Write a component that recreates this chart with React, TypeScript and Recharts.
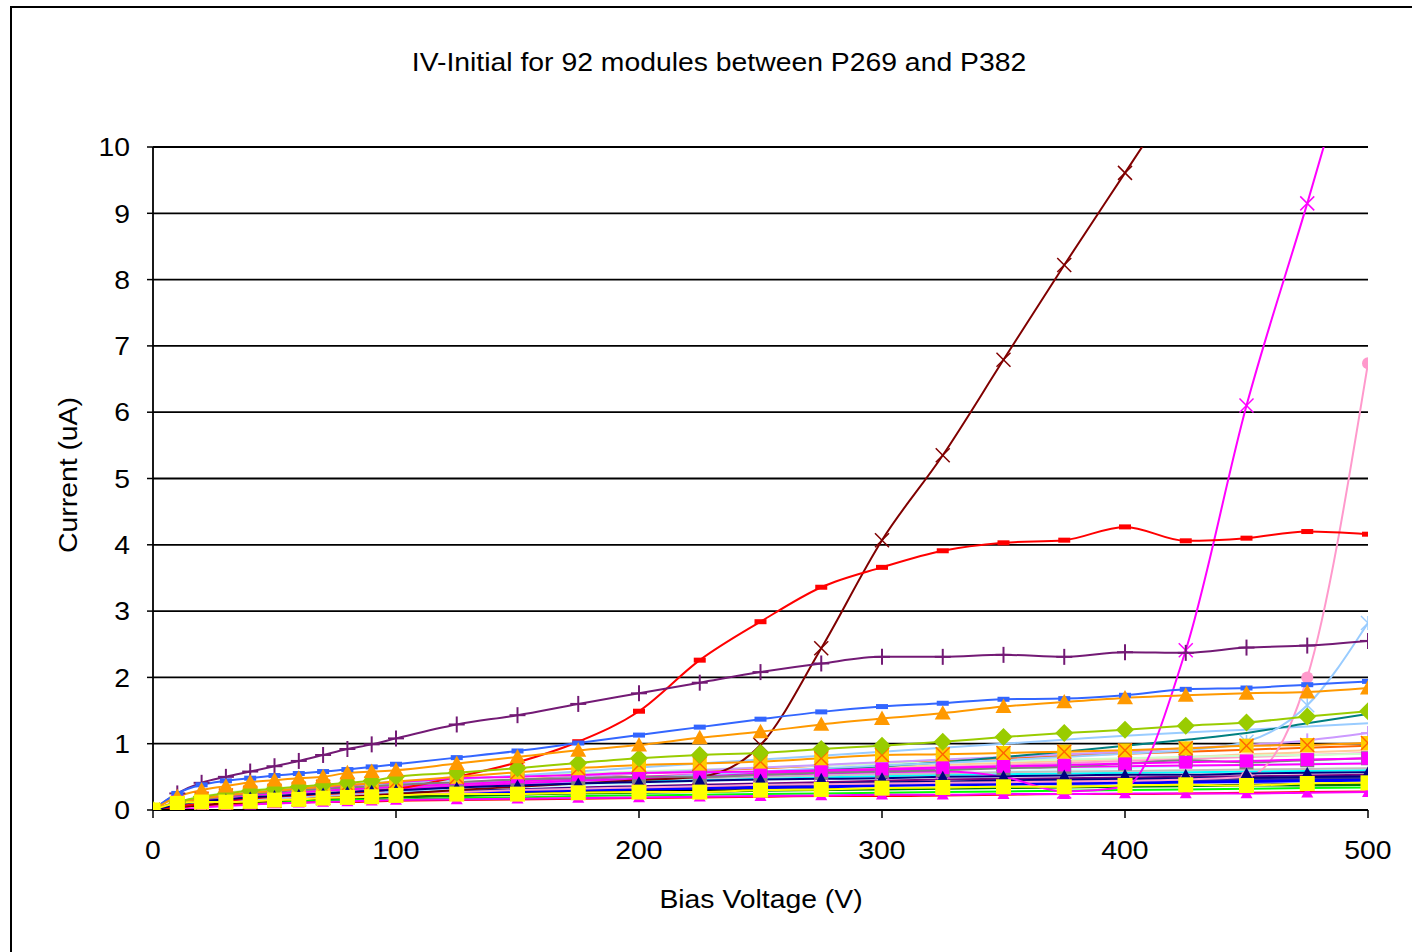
import React from "react";
import { LineChart, Line, XAxis, YAxis, CartesianGrid } from "recharts";

const voltage = [0, 10, 20, 30, 40, 50, 60, 70, 80, 90, 100, 125, 150, 175, 200, 225, 250, 275, 300, 325, 350, 375, 400, 425, 450, 475, 500];
const xTicks = [0, 100, 200, 300, 400, 500];
const yTicks = [0, 1, 2, 3, 4, 5, 6, 7, 8, 9, 10];

const TITLE = "IV-Initial for 92 modules between P269 and P382";
const X_LABEL = "Bias Voltage (V)";
const Y_LABEL = "Current (uA)";

// background bundle lines (no visible markers)
const peachLine = [0, 0.1, 0.15, 0.18, 0.21, 0.23, 0.25, 0.27, 0.29, 0.31, 0.33, 0.38, 0.42, 0.46, 0.5, 0.54, 0.57, 0.61, 0.64, 0.68, 0.71, 0.74, 0.77, 0.8, 0.84, 0.87, 0.9];
const orangeLine = [0, 0.11, 0.17, 0.2, 0.23, 0.26, 0.28, 0.3, 0.32, 0.34, 0.36, 0.41, 0.46, 0.5, 0.55, 0.59, 0.63, 0.67, 0.71, 0.75, 0.78, 0.82, 0.85, 0.88, 0.91, 0.94, 0.97];
const pinkLine = [0, 0.09, 0.14, 0.17, 0.2, 0.22, 0.24, 0.26, 0.28, 0.3, 0.32, 0.36, 0.4, 0.44, 0.48, 0.52, 0.55, 0.58, 0.62, 0.65, 0.68, 0.71, 0.74, 0.77, 0.8, 0.83, 0.86];
const paleGreenLine = [0, 0.12, 0.2, 0.26, 0.3, 0.33, 0.35, 0.37, 0.39, 0.41, 0.43, 0.47, 0.51, 0.55, 0.58, 0.61, 0.64, 0.67, 0.7, 0.72, 0.74, 0.76, 0.78, 0.8, 0.82, 0.83, 0.85];
const paleCyanLine = [0, 0.08, 0.12, 0.15, 0.17, 0.19, 0.21, 0.23, 0.24, 0.26, 0.27, 0.31, 0.34, 0.37, 0.4, 0.43, 0.46, 0.49, 0.52, 0.55, 0.58, 0.61, 0.63, 0.66, 0.68, 0.7, 0.72];
const lavenderLine = [0, 0.1, 0.15, 0.19, 0.22, 0.25, 0.27, 0.29, 0.31, 0.33, 0.35, 0.4, 0.45, 0.5, 0.55, 0.6, 0.64, 0.68, 0.72, 0.76, 0.8, 0.84, 0.88, 0.93, 0.98, 1.05, 1.16];
const skyLine = [0, 0.1, 0.16, 0.2, 0.24, 0.27, 0.3, 0.33, 0.36, 0.38, 0.4, 0.46, 0.52, 0.58, 0.64, 0.7, 0.76, 0.82, 0.88, 0.94, 1.0, 1.06, 1.12, 1.17, 1.21, 1.26, 1.31];
const tealLine = [0, 0.1, 0.15, 0.18, 0.2, 0.22, 0.24, 0.26, 0.28, 0.3, 0.32, 0.36, 0.4, 0.44, 0.48, 0.52, 0.56, 0.61, 0.66, 0.72, 0.8, 0.88, 0.97, 1.06, 1.16, 1.31, 1.45];
const cyanLine = [0, 0.08, 0.12, 0.15, 0.18, 0.2, 0.22, 0.24, 0.26, 0.28, 0.3, 0.34, 0.37, 0.4, 0.43, 0.45, 0.47, 0.49, 0.51, 0.53, 0.54, 0.55, 0.56, 0.57, 0.58, 0.59, 0.6];
const silverLine = [0, 0.09, 0.14, 0.17, 0.2, 0.22, 0.24, 0.26, 0.28, 0.3, 0.32, 0.36, 0.4, 0.43, 0.46, 0.48, 0.5, 0.52, 0.54, 0.55, 0.57, 0.58, 0.59, 0.6, 0.61, 0.62, 0.63];
const magentaLine = [0, 0.1, 0.15, 0.19, 0.22, 0.25, 0.27, 0.29, 0.31, 0.33, 0.35, 0.39, 0.43, 0.47, 0.5, 0.53, 0.56, 0.58, 0.6, 0.62, 0.64, 0.65, 0.66, 0.67, 0.68, 0.69, 0.7];
const purpleLine = [0, 0.07, 0.11, 0.14, 0.16, 0.18, 0.2, 0.21, 0.22, 0.24, 0.25, 0.28, 0.31, 0.34, 0.36, 0.38, 0.4, 0.42, 0.44, 0.46, 0.47, 0.48, 0.49, 0.5, 0.51, 0.52, 0.53];
const navyLine = [0, 0.08, 0.12, 0.15, 0.17, 0.19, 0.2, 0.22, 0.23, 0.24, 0.25, 0.28, 0.3, 0.32, 0.34, 0.36, 0.38, 0.39, 0.41, 0.42, 0.44, 0.45, 0.46, 0.47, 0.48, 0.49, 0.5];
const indigoLine = [0, 0.07, 0.11, 0.14, 0.16, 0.18, 0.19, 0.2, 0.21, 0.22, 0.24, 0.27, 0.29, 0.31, 0.33, 0.35, 0.36, 0.38, 0.39, 0.4, 0.41, 0.42, 0.43, 0.44, 0.45, 0.46, 0.47];
const blueLine = [0, 0.07, 0.11, 0.13, 0.15, 0.17, 0.18, 0.19, 0.2, 0.21, 0.22, 0.25, 0.27, 0.29, 0.31, 0.32, 0.34, 0.35, 0.37, 0.38, 0.39, 0.4, 0.41, 0.42, 0.43, 0.44, 0.45];
const blackLine = [0, 0.06, 0.1, 0.12, 0.14, 0.15, 0.16, 0.17, 0.18, 0.19, 0.2, 0.22, 0.24, 0.26, 0.28, 0.29, 0.3, 0.31, 0.32, 0.33, 0.34, 0.35, 0.36, 0.37, 0.38, 0.39, 0.4];
const darkGreenLine = [0, 0.06, 0.09, 0.11, 0.13, 0.14, 0.15, 0.16, 0.17, 0.18, 0.19, 0.21, 0.23, 0.25, 0.26, 0.27, 0.29, 0.3, 0.31, 0.32, 0.33, 0.34, 0.35, 0.36, 0.37, 0.37, 0.38];
const greenLine = [0, 0.05, 0.08, 0.1, 0.11, 0.12, 0.13, 0.14, 0.15, 0.15, 0.16, 0.18, 0.19, 0.21, 0.22, 0.23, 0.24, 0.25, 0.26, 0.27, 0.28, 0.29, 0.3, 0.31, 0.32, 0.33, 0.34];
const redLowLine = [0, 0.04, 0.07, 0.08, 0.09, 0.1, 0.11, 0.12, 0.12, 0.13, 0.14, 0.15, 0.16, 0.17, 0.18, 0.19, 0.2, 0.21, 0.21, 0.22, 0.23, 0.24, 0.24, 0.25, 0.26, 0.27, 0.28];

// marker series
const pinkCircle = [0, 0.06, 0.1, 0.13, 0.15, 0.17, 0.19, 0.2, 0.22, 0.23, 0.24, 0.27, 0.3, 0.32, 0.34, 0.36, 0.38, 0.39, 0.4, 0.41, 0.42, 0.43, 0.44, 0.46, 0.5, 2.0, 6.74];
const skyStar = [0, 0.07, 0.11, 0.14, 0.16, 0.18, 0.2, 0.22, 0.24, 0.26, 0.28, 0.33, 0.38, 0.43, 0.48, 0.53, 0.58, 0.63, 0.67, 0.71, 0.75, 0.8, 0.85, 0.9, 1.03, 1.58, 2.82];
const magentaCross = [0, 0.05, 0.1, 0.14, 0.18, 0.2, 0.23, 0.25, 0.27, 0.29, 0.31, 0.36, 0.4, 0.44, 0.47, 0.5, 0.53, 0.55, 0.57, 0.58, 0.5, 0.28, 0.35, 2.41, 6.1, 9.15, 12.3];
const maroonCross = [0, 0.04, 0.07, 0.1, 0.12, 0.14, 0.16, 0.18, 0.2, 0.22, 0.24, 0.3, 0.35, 0.4, 0.45, 0.5, 0.98, 2.44, 4.07, 5.35, 6.79, 8.22, 9.61, 11.0, 12.4, 13.8, 15.2];
const redDash = [0, 0.05, 0.1, 0.14, 0.17, 0.2, 0.22, 0.24, 0.26, 0.28, 0.32, 0.5, 0.72, 1.03, 1.49, 2.26, 2.84, 3.36, 3.66, 3.91, 4.03, 4.07, 4.27, 4.06, 4.1, 4.2, 4.16];
const purplePlus = [0, 0.25, 0.41, 0.5, 0.58, 0.66, 0.74, 0.83, 0.92, 0.99, 1.08, 1.29, 1.43, 1.6, 1.76, 1.92, 2.08, 2.21, 2.31, 2.31, 2.34, 2.31, 2.38, 2.37, 2.45, 2.48, 2.55];
const blueDash = [0, 0.25, 0.38, 0.44, 0.48, 0.52, 0.55, 0.58, 0.61, 0.65, 0.69, 0.79, 0.89, 1.01, 1.13, 1.25, 1.37, 1.48, 1.56, 1.61, 1.67, 1.68, 1.73, 1.82, 1.84, 1.89, 1.94];
const orangeTriangle = [0, 0.2, 0.3, 0.36, 0.42, 0.45, 0.48, 0.5, 0.56, 0.58, 0.6, 0.7, 0.8, 0.9, 0.98, 1.09, 1.18, 1.29, 1.38, 1.46, 1.56, 1.63, 1.69, 1.73, 1.76, 1.78, 1.84];
const greenDiamond = [0, 0.12, 0.2, 0.25, 0.29, 0.32, 0.35, 0.38, 0.41, 0.44, 0.5, 0.56, 0.63, 0.71, 0.78, 0.83, 0.86, 0.92, 0.97, 1.03, 1.1, 1.16, 1.21, 1.27, 1.32, 1.41, 1.49];
const goldBoxCross = [0, 0.1, 0.17, 0.22, 0.26, 0.29, 0.32, 0.35, 0.38, 0.4, 0.43, 0.5, 0.57, 0.63, 0.68, 0.7, 0.73, 0.78, 0.83, 0.84, 0.86, 0.88, 0.9, 0.93, 0.97, 0.98, 1.01];
const magentaSquare = [0, 0.12, 0.18, 0.22, 0.26, 0.29, 0.32, 0.35, 0.37, 0.4, 0.42, 0.48, 0.5, 0.53, 0.56, 0.57, 0.58, 0.6, 0.62, 0.64, 0.66, 0.68, 0.7, 0.72, 0.74, 0.76, 0.78];
const grayBoxPlus = [0, 0.1, 0.16, 0.2, 0.24, 0.27, 0.3, 0.32, 0.34, 0.36, 0.38, 0.42, 0.46, 0.48, 0.5, 0.5, 0.53, 0.56, 0.58, 0.6, 0.63, 0.65, 0.7, 0.75, 0.72, 0.75, 0.78];
const navyTriangle = [0, 0.08, 0.13, 0.16, 0.19, 0.21, 0.23, 0.25, 0.27, 0.29, 0.3, 0.34, 0.37, 0.4, 0.42, 0.44, 0.46, 0.47, 0.48, 0.5, 0.51, 0.52, 0.53, 0.53, 0.55, 0.56, 0.57];
const magentaTriangle = [0, 0, 0.04, 0.06, 0.08, 0.1, 0.11, 0.12, 0.13, 0.14, 0.15, 0.16, 0.17, 0.18, 0.19, 0.2, 0.21, 0.22, 0.23, 0.23, 0.24, 0.24, 0.25, 0.25, 0.25, 0.26, 0.27];
const yellowSquare = [0, 0.1, 0.12, 0.12, 0.13, 0.15, 0.16, 0.18, 0.19, 0.2, 0.22, 0.24, 0.24, 0.26, 0.27, 0.27, 0.3, 0.31, 0.33, 0.34, 0.35, 0.35, 0.37, 0.38, 0.37, 0.4, 0.41];

type Shape = "none" | "square" | "diamond" | "triangle" | "x" | "star" | "plus" | "circle" | "dash" | "boxX" | "boxPlus";
type Marker = { shape: Shape; size: number; fill: string; stroke: string };
type Series = { key: string; color: string; values: number[]; marker: Marker; width: number };

const NO: Marker = { shape: "none", size: 0, fill: "none", stroke: "none" };

const seriesList: Series[] = [
  { key: "peach", color: "#FFCC99", values: peachLine, marker: NO, width: 2 },
  { key: "orangeL", color: "#FF6600", values: orangeLine, marker: NO, width: 2 },
  { key: "pinkL", color: "#FF99CC", values: pinkLine, marker: NO, width: 2 },
  { key: "paleGreen", color: "#CCFFCC", values: paleGreenLine, marker: NO, width: 2 },
  { key: "paleCyan", color: "#CCFFFF", values: paleCyanLine, marker: NO, width: 2 },
  { key: "lavender", color: "#CC99FF", values: lavenderLine, marker: { shape: "plus", size: 14, fill: "none", stroke: "#CC99FF" }, width: 2 },
  { key: "sky", color: "#99CCFF", values: skyLine, marker: NO, width: 2 },
  { key: "teal", color: "#008080", values: tealLine, marker: NO, width: 2 },
  { key: "cyan", color: "#00FFFF", values: cyanLine, marker: NO, width: 2 },
  { key: "silver", color: "#C0C0C0", values: silverLine, marker: NO, width: 2 },
  { key: "magentaL", color: "#FF00FF", values: magentaLine, marker: NO, width: 2 },
  { key: "purpleL", color: "#800080", values: purpleLine, marker: NO, width: 2 },
  { key: "navyL", color: "#000080", values: navyLine, marker: NO, width: 3 },
  { key: "indigo", color: "#333399", values: indigoLine, marker: NO, width: 3 },
  { key: "blueL", color: "#0000FF", values: blueLine, marker: NO, width: 3 },
  { key: "blackL", color: "#000000", values: blackLine, marker: NO, width: 2 },
  { key: "darkGreen", color: "#008000", values: darkGreenLine, marker: NO, width: 2 },
  { key: "greenL", color: "#00FF00", values: greenLine, marker: NO, width: 2 },
  { key: "redLow", color: "#FF0000", values: redLowLine, marker: NO, width: 2 },
  { key: "pinkCircle", color: "#FF99CC", values: pinkCircle, marker: { shape: "circle", size: 12, fill: "#FF99CC", stroke: "#FF99CC" }, width: 2 },
  { key: "skyStar", color: "#99CCFF", values: skyStar, marker: { shape: "star", size: 14, fill: "none", stroke: "#99CCFF" }, width: 2 },
  { key: "magentaCross", color: "#FF00FF", values: magentaCross, marker: { shape: "x", size: 14, fill: "none", stroke: "#FF00FF" }, width: 2 },
  { key: "maroonCross", color: "#800000", values: maroonCross, marker: { shape: "x", size: 14, fill: "none", stroke: "#800000" }, width: 2 },
  { key: "redDash", color: "#FF0000", values: redDash, marker: { shape: "dash", size: 12, fill: "none", stroke: "#FF0000" }, width: 2 },
  { key: "purplePlus", color: "#731A75", values: purplePlus, marker: { shape: "plus", size: 16, fill: "none", stroke: "#731A75" }, width: 2 },
  { key: "blueDash", color: "#3366FF", values: blueDash, marker: { shape: "dash", size: 12, fill: "none", stroke: "#3366FF" }, width: 2 },
  { key: "grayBoxPlus", color: "#808080", values: grayBoxPlus, marker: { shape: "boxPlus", size: 14, fill: "#808080", stroke: "#FFFFFF" }, width: 2 },
  { key: "magentaSquare", color: "#FF00FF", values: magentaSquare, marker: { shape: "square", size: 13, fill: "#FF00FF", stroke: "#FF00FF" }, width: 2 },
  { key: "goldBoxCross", color: "#FF9900", values: goldBoxCross, marker: { shape: "boxX", size: 14, fill: "#FFCC00", stroke: "#FF6600" }, width: 2 },
  { key: "greenDiamond", color: "#99CC00", values: greenDiamond, marker: { shape: "diamond", size: 18, fill: "#99CC00", stroke: "#99CC00" }, width: 2 },
  { key: "orangeTriangle", color: "#FF9900", values: orangeTriangle, marker: { shape: "triangle", size: 16, fill: "#FF9900", stroke: "#FF9900" }, width: 2 },
  { key: "navyTriangle", color: "#000080", values: navyTriangle, marker: { shape: "triangle", size: 12, fill: "#000080", stroke: "#00FFFF" }, width: 2 },
  { key: "magentaTriangle", color: "#FF00FF", values: magentaTriangle, marker: { shape: "triangle", size: 12, fill: "#FF00FF", stroke: "#FF00FF" }, width: 2 },
  { key: "yellowSquare", color: "#FFFF00", values: yellowSquare, marker: { shape: "square", size: 15, fill: "#FFFF00", stroke: "#FFFF00" }, width: 2 },
];

const chartData = voltage.map((v, i) => {
  const row: Record<string, number> = { v };
  seriesList.forEach((s) => {
    row[s.key] = s.values[i];
  });
  return row;
});

function makeDot(m: Marker) {
  return (p: any) => {
    const { cx, cy, index } = p;
    const k = `m-${index}`;
    if (cx == null || cy == null || !isFinite(cx) || !isFinite(cy)) return <g key={k} />;
    const s = m.size / 2;
    switch (m.shape) {
      case "square":
        return <rect key={k} x={cx - s} y={cy - s} width={m.size} height={m.size} fill={m.fill} />;
      case "diamond":
        return <polygon key={k} points={`${cx},${cy - s} ${cx + s},${cy} ${cx},${cy + s} ${cx - s},${cy}`} fill={m.fill} />;
      case "triangle":
        return <polygon key={k} points={`${cx},${cy - s} ${cx + s},${cy + s * 0.8} ${cx - s},${cy + s * 0.8}`} fill={m.fill} />;
      case "circle":
        return <circle key={k} cx={cx} cy={cy} r={s} fill={m.fill} />;
      case "x":
        return (
          <g key={k} stroke={m.stroke} strokeWidth={1.5}>
            <line x1={cx - s} y1={cy - s} x2={cx + s} y2={cy + s} />
            <line x1={cx - s} y1={cy + s} x2={cx + s} y2={cy - s} />
          </g>
        );
      case "star":
        return (
          <g key={k} stroke={m.stroke} strokeWidth={1.5}>
            <line x1={cx - s} y1={cy - s} x2={cx + s} y2={cy + s} />
            <line x1={cx - s} y1={cy + s} x2={cx + s} y2={cy - s} />
            <line x1={cx} y1={cy - s} x2={cx} y2={cy + s} />
          </g>
        );
      case "plus":
        return (
          <g key={k} stroke={m.stroke} strokeWidth={2}>
            <line x1={cx - s} y1={cy} x2={cx + s} y2={cy} />
            <line x1={cx} y1={cy - s} x2={cx} y2={cy + s} />
          </g>
        );
      case "dash":
        return <rect key={k} x={cx - s} y={cy - 2.5} width={m.size} height={5} fill={m.stroke} />;
      case "boxX":
        return (
          <g key={k}>
            <rect x={cx - s} y={cy - s} width={m.size} height={m.size} fill={m.fill} />
            <g stroke={m.stroke} strokeWidth={1.5}>
              <line x1={cx - s} y1={cy - s} x2={cx + s} y2={cy + s} />
              <line x1={cx - s} y1={cy + s} x2={cx + s} y2={cy - s} />
            </g>
          </g>
        );
      case "boxPlus":
        return (
          <g key={k}>
            <rect x={cx - s} y={cy - s} width={m.size} height={m.size} fill={m.fill} />
            <g stroke={m.stroke} strokeWidth={2}>
              <line x1={cx - s + 2} y1={cy} x2={cx + s - 2} y2={cy} />
              <line x1={cx} y1={cy - s + 2} x2={cx} y2={cy + s - 2} />
            </g>
          </g>
        );
      default:
        return <g key={k} />;
    }
  };
}

const FONT = "'Liberation Sans', Arial, sans-serif";
const STRETCH = 1.09;

const XTick = (props: any) => {
  const { x, y, payload } = props;
  return (
    <g transform={`translate(${x},${y}) scale(${STRETCH},1)`}>
      <text x={0} y={0} dy="0.71em" textAnchor="middle" fill="#000" fontSize={26} fontFamily={FONT}>
        {payload.value}
      </text>
    </g>
  );
};

const YTick = (props: any) => {
  const { x, y, payload } = props;
  return (
    <g transform={`translate(${x},${y}) scale(${STRETCH},1)`}>
      <text x={0} y={0} dy="0.355em" textAnchor="end" fill="#000" fontSize={26} fontFamily={FONT}>
        {payload.value}
      </text>
    </g>
  );
};

export default function App() {
  return (
    <div style={{ position: "fixed", left: 0, top: 0, width: 1412, height: 952, overflow: "hidden", background: "#fff", fontFamily: FONT }}>
      <div style={{ position: "absolute", left: 10, top: 6, width: 1500, height: 1100, border: "2px solid #000", boxSizing: "border-box" }} />
      <div style={{ position: "absolute", left: 319, top: 46, width: 800, textAlign: "center", fontSize: 26, lineHeight: "32px", color: "#000", transform: `scaleX(${STRETCH})` }}>{TITLE}</div>
      <div style={{ position: "absolute", left: 561, top: 883, width: 400, textAlign: "center", fontSize: 26, lineHeight: "32px", color: "#000", transform: `scaleX(${STRETCH})` }}>{X_LABEL}</div>
      <div style={{ position: "absolute", left: 68 - 150, top: 475 - 16, width: 300, textAlign: "center", fontSize: 26, lineHeight: "32px", color: "#000", transform: `rotate(-90deg) scaleX(${STRETCH})` }}>{Y_LABEL}</div>
      <div style={{ position: "absolute", left: 0, top: 0 }}>
        <LineChart width={1412} height={952} data={chartData} margin={{ top: 147, right: 44, bottom: 102, left: 93 }}>
          <CartesianGrid vertical={false} stroke="#000" strokeWidth={1.8} />
          <XAxis
            dataKey="v"
            type="number"
            domain={[0, 500]}
            ticks={xTicks}
            allowDataOverflow
            height={40}
            tickSize={8}
            tickMargin={23}
            axisLine={{ stroke: "#000", strokeWidth: 1.8 }}
            tickLine={{ stroke: "#000", strokeWidth: 1.5 }}
            tick={<XTick />}
          />
          <YAxis
            type="number"
            domain={[0, 10]}
            ticks={yTicks}
            allowDataOverflow
            width={60}
            tickSize={6}
            tickMargin={17}
            axisLine={{ stroke: "#000", strokeWidth: 1.8 }}
            tickLine={{ stroke: "#000", strokeWidth: 1.5 }}
            tick={<YTick />}
          />
          {seriesList.map((s) => (
            <Line
              key={s.key}
              dataKey={s.key}
              type="monotone"
              stroke={s.color}
              strokeWidth={s.width}
              dot={s.marker.shape === "none" ? false : makeDot(s.marker)}
              activeDot={false}
              isAnimationActive={false}
            />
          ))}
        </LineChart>
      </div>
    </div>
  );
}
